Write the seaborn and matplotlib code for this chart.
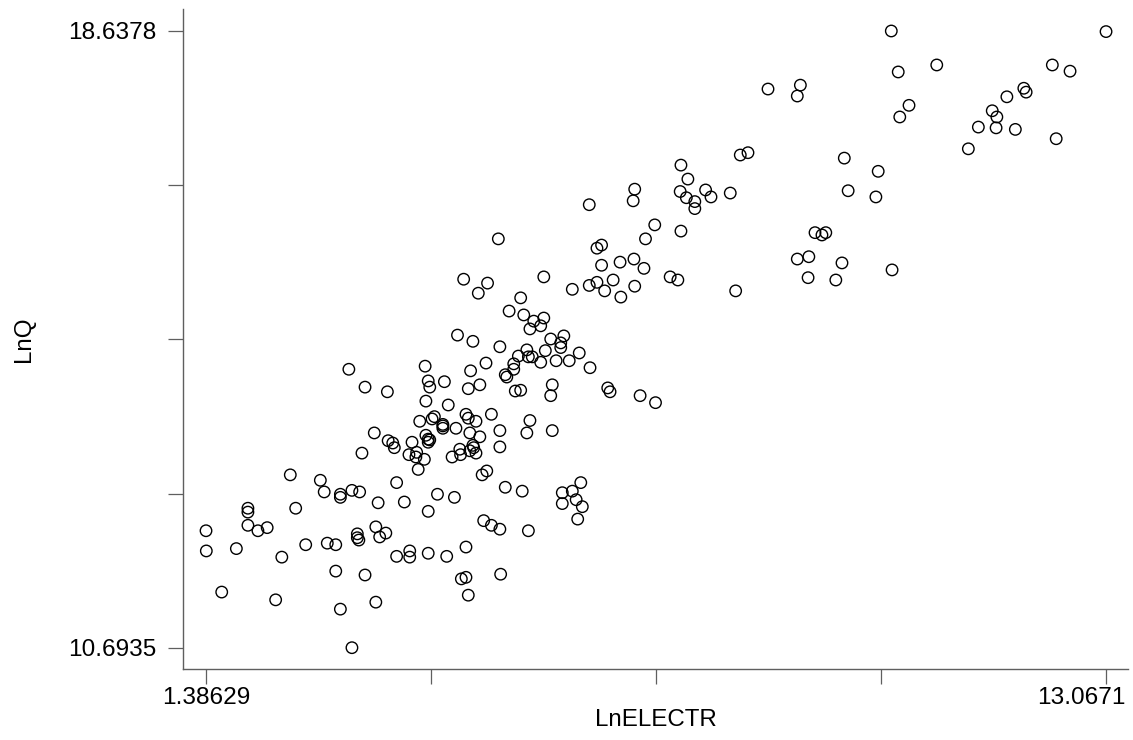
import matplotlib
matplotlib.use("Agg")
import matplotlib.pyplot as plt
import matplotlib.transforms as mtransforms
import seaborn as sns
import pandas as pd

ln_electr = [
    10.28, 13.0671, 10.37, 10.87, 12.37, 12.60, 10.51, 10.39, 8.68, 9.10,
    9.06, 12.00, 12.03, 11.78, 11.59, 11.65, 11.41, 11.64, 11.89, 12.42,
    11.28,
    8.32, 8.42, 7.55, 7.64, 9.67, 10.11, 9.72, 10.08, 6.95, 6.93,
    6.36, 7.54, 7.62, 7.73, 7.73, 7.87, 7.94, 8.19, 7.21, 7.55,
    7.09, 9.29, 9.38, 9.43, 9.06, 9.21, 9.64, 10.29, 9.20, 9.56,
    8.26,
    6.46, 6.52, 6.52, 6.76, 6.94, 7.07, 6.14, 6.36, 6.46, 6.56,
    6.67, 6.77, 6.95, 7.41, 7.51, 5.77,
    5.86, 6.03, 5.99, 5.99, 5.79, 5.73, 5.93, 6.10, 6.23, 6.37,
    6.60, 6.63, 7.02, 7.22,
    5.18, 4.73, 5.04, 4.92, 5.47, 5.32, 5.51, 5.64, 5.77, 5.59,
    5.73, 4.65, 4.85, 5.20, 5.55, 5.44, 5.62, 5.57, 5.02, 5.38,
    5.38, 5.27, 5.29, 5.40, 5.47, 5.88, 5.86, 5.59, 5.55, 5.88,
    3.24, 4.23, 4.82, 3.45, 3.74, 4.27, 4.29, 4.48, 4.79, 4.94,
    4.24, 4.53, 4.16, 4.32, 4.35, 4.46, 4.46, 4.46, 4.63, 4.76,
    4.79, 4.89, 5.09, 4.81, 4.94, 5.20, 5.20, 3.57, 3.75, 3.81,
    3.83, 3.41, 4.06, 4.24, 4.27, 4.27, 4.29, 4.02, 4.12, 4.11,
    4.22, 4.14, 4.58, 4.68, 4.69, 4.81, 4.85, 4.89, 4.86, 4.97,
    5.03, 5.27, 3.86, 3.96, 4.39, 4.61, 4.27, 4.76, 4.99, 5.09,
    5.20, 3.86, 4.03, 4.03, 4.27, 4.51, 4.70, 4.76, 5.21, 4.79,
    5.49, 6.01, 6.14, 6.25, 6.01, 6.19, 6.27, 6.21, 5.57,
    2.48, 2.87, 2.92, 3.13, 3.13, 3.28, 3.38, 3.62, 1.93, 1.93,
    2.55, 3.59, 1.93, 2.06, 2.18, 1.38629, 3.35, 3.35, 3.37, 3.64,
    3.72, 1.39, 1.78, 2.68, 2.96, 3.07, 2.37, 3.07, 3.45, 1.59,
    2.29, 3.13, 3.59, 3.28,
]

ln_q = [
    18.6378, 18.63, 18.11, 18.20, 18.20, 18.12, 17.68, 17.53, 17.89, 17.94,
    17.80, 17.90, 17.85, 17.79, 17.61, 17.53, 17.40, 17.39, 17.37, 17.25,
    17.12,
    17.04, 17.07, 16.91, 16.73, 17.00, 16.83, 16.58, 16.50, 16.60, 16.45,
    16.40, 16.57, 16.49, 16.44, 16.35, 16.59, 16.50, 16.55, 16.14, 16.06,
    15.96, 16.04, 16.01, 16.04, 15.70, 15.73, 15.65, 15.56, 15.46, 15.43,
    15.29,
    15.84, 15.88, 15.62, 15.66, 15.70, 15.58, 15.31, 15.36, 15.40, 15.29,
    15.43, 15.21, 15.35, 15.47, 15.43, 15.47,
    14.67, 14.71, 14.62, 14.56, 14.52, 14.37, 14.39, 14.39, 14.49, 14.30,
    14.04, 13.99, 13.94, 13.85,
    15.96, 15.44, 15.39, 15.26, 15.20, 15.03, 14.98, 14.90, 14.94, 14.80,
    14.84, 14.72, 14.64, 14.57, 14.53, 14.45, 14.44, 14.44, 14.36, 14.35,
    14.28, 14.21, 14.18, 14.00, 14.01, 14.08, 13.94, 13.62, 13.46, 13.49,
    14.28, 14.32, 14.26, 14.05, 13.99, 14.13, 14.05, 14.12, 14.03, 14.08,
    13.87, 13.82, 13.61, 13.64, 13.67, 13.57, 13.55, 13.52, 13.52, 13.70,
    13.65, 13.61, 13.70, 13.46, 13.41, 13.49, 13.28, 13.46, 13.36, 13.33,
    13.27, 13.20, 13.34, 13.43, 13.38, 13.34, 13.37, 13.18, 13.21, 13.15,
    13.12, 12.99, 13.15, 13.25, 13.18, 13.23, 13.30, 13.20, 13.27, 12.92,
    12.97, 12.76, 12.82, 12.57, 12.67, 12.63, 12.45, 11.99, 12.33, 12.27,
    12.22, 11.87, 11.94, 11.86, 11.91, 11.87, 11.58, 11.60, 11.64, 11.37,
    12.71, 12.69, 12.71, 12.82, 12.55, 12.60, 12.51, 12.35, 12.20,
    12.92, 12.85, 12.70, 12.67, 12.63, 12.72, 12.70, 12.56, 12.49, 12.44,
    12.49, 12.25, 12.27, 12.20, 12.24, 12.20, 12.16, 12.11, 12.08, 12.12,
    12.17, 11.94, 11.97, 12.02, 12.04, 12.02, 11.86, 11.68, 11.63, 11.41,
    11.31, 11.19, 11.28, 10.6935,
]

x_ticks = [1.38629, 4.306588, 7.226885, 10.147183, 13.0671]
x_tick_labels = ["1.38629", "", "", "", "13.0671"]
y_ticks = [10.6935, 12.679575, 14.66565, 16.651725, 18.6378]
y_tick_labels = ["10.6935", "", "", "", "18.6378"]

df = pd.DataFrame({"LnELECTR": ln_electr, "LnQ": ln_q})

sns.set_style("white")
plt.rcParams["font.family"] = ["Liberation Sans", "DejaVu Sans"]

fig = plt.figure(figsize=(11.33, 7.40), dpi=100)
ax = fig.add_axes([183 / 1133, (740 - 669) / 740, (1128 - 183) / 1133, (669 - 9) / 740])

sns.scatterplot(data=df, x="LnELECTR", y="LnQ", ax=ax, marker="o", s=68,
                facecolor="none", edgecolor="black", linewidth=1.0)

ax.set_xlim(1.0875, 13.352)
ax.set_ylim(10.419, 18.921)

ax.set_xticks(x_ticks)
ax.set_xticklabels(x_tick_labels)
ax.set_yticks(y_ticks)
ax.set_yticklabels(y_tick_labels)

axis_grey = "#5f5f5f"
for side in ["top", "right"]:
    ax.spines[side].set_visible(False)
for side in ["left", "bottom"]:
    ax.spines[side].set_visible(True)
    ax.spines[side].set_color(axis_grey)
    ax.spines[side].set_linewidth(1.0)

ax.tick_params(axis="both", which="major", direction="out", length=10.5, width=0.9,
               color=axis_grey, labelcolor="black", labelsize=17.6,
               bottom=True, left=True, top=False, right=False)
ax.tick_params(axis="x", pad=2.5)
ax.tick_params(axis="y", pad=8.5)

# last x tick label is shifted left so it stays inside the figure (as in the reference)
last_lbl = ax.get_xticklabels()[-1]
last_lbl.set_transform(last_lbl.get_transform() +
                       mtransforms.ScaledTranslation(-25 / 100, 0, fig.dpi_scale_trans))

ax.set_xlabel("LnELECTR", fontsize=17.4, color="black")
ax.set_ylabel("LnQ", fontsize=17.4, color="black")
ax.xaxis.label.set_va("center")
ax.xaxis.set_label_coords(0.5, -0.077)
ax.yaxis.label.set_va("center")
ax.yaxis.set_label_coords(-0.168, 0.5)

fig.savefig("out.png", dpi=100, facecolor="white")
